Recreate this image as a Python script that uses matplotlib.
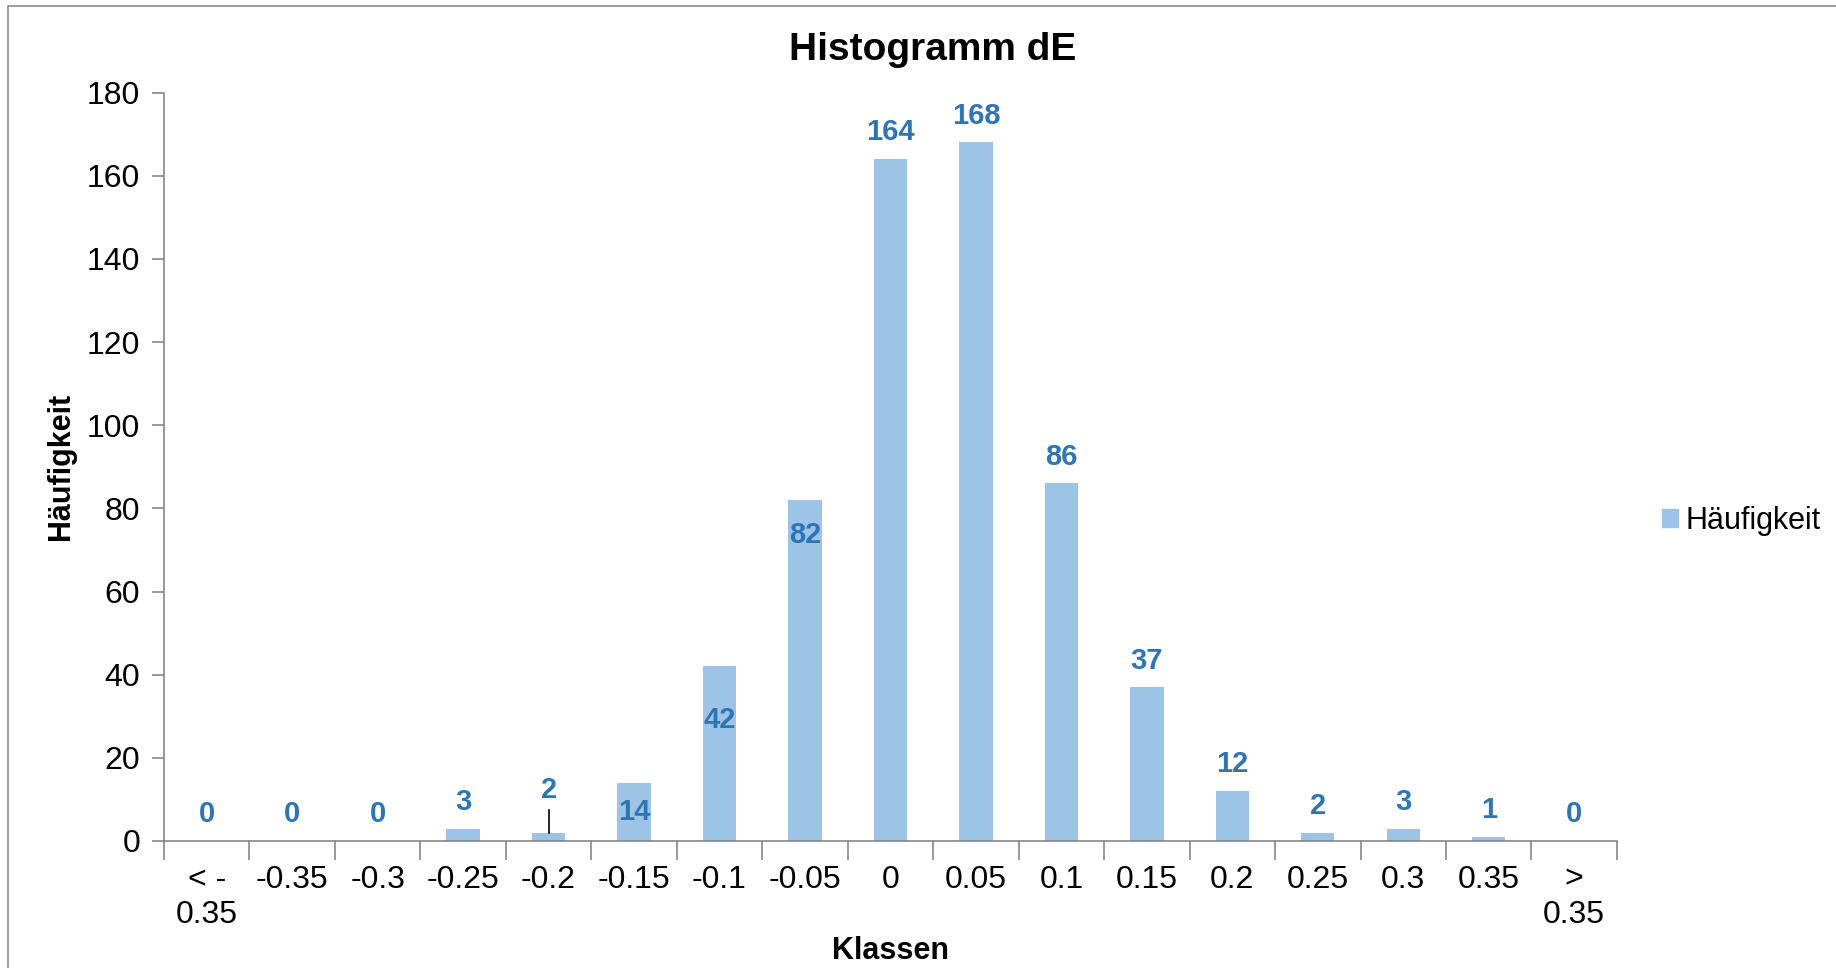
import matplotlib
matplotlib.use('Agg')
import matplotlib.pyplot as plt
from matplotlib.patches import Rectangle, Patch

plt.rcParams['font.family'] = ['Liberation Sans', 'DejaVu Sans']

# data
klassen = ['< -\n0.35', '-0.35', '-0.3', '-0.25', '-0.2', '-0.15', '-0.1', '-0.05', '0',
           '0.05', '0.1', '0.15', '0.2', '0.25', '0.3', '0.35', '>\n0.35']
haeufigkeit = [0, 0, 0, 3, 2, 14, 42, 82, 164, 168, 86, 37, 12, 2, 3, 1, 0]

bar_color = '#9DC3E6'
label_color = '#2E75B6'
axis_color = '#868686'

fig = plt.figure(figsize=(18.36, 9.68), dpi=100)
fig.patches.append(Rectangle((0.0045, -0.01), 1.2, 1.004, transform=fig.transFigure,
                             fill=False, edgecolor='#8c8c8c', linewidth=1.2))
ax = fig.add_axes([0.0893, 0.1312, 0.7914, 0.7732])

x = range(len(klassen))
ax.bar(x, haeufigkeit, width=0.39, color=bar_color)

# data labels: most sit above the bar, a few were placed inside
inside = {5: -7.0, 6: -13.0, 7: -8.5}
for i, v in enumerate(haeufigkeit):
    if i in inside:
        y = v + inside[i]
    elif i == 4:
        y = v + 10.2
    else:
        y = v + 6.4
    ax.text(i, y, str(v), ha='center', va='center', color=label_color,
            fontsize=21, fontweight='bold')

# leader line for the small "2" label
ax.plot([4, 4], [haeufigkeit[4], haeufigkeit[4] + 5.4], color='black', linewidth=1.2)

ax.set_xlim(-0.5, len(klassen) - 0.5)
ax.set_ylim(0, 180)
ax.set_yticks(range(0, 181, 20))
ax.set_xticks(x)
ax.set_xticklabels(klassen, fontsize=23, linespacing=1.25)
ax.tick_params(axis='x', length=0, pad=17)
ax.set_xticks([i - 0.5 for i in range(len(klassen) + 1)], minor=True)
ax.tick_params(axis='x', which='minor', length=14, width=1.2, color=axis_color, direction='out')
ax.tick_params(axis='y', labelsize=23, length=9, width=1.2, color=axis_color, pad=8)

for s in ['top', 'right']:
    ax.spines[s].set_visible(False)
for s in ['left', 'bottom']:
    ax.spines[s].set_color(axis_color)
    ax.spines[s].set_linewidth(1.2)

ax.set_xlabel('Klassen', fontsize=22, fontweight='bold', labelpad=4)
ax.set_ylabel('Häufigkeit', fontsize=22, fontweight='bold', labelpad=8)

fig.text(0.508, 0.948, 'Histogramm dE', ha='center', va='center',
         fontsize=28, fontweight='bold')

fig.legend(handles=[Patch(color=bar_color, label='Häufigkeit')], loc='center left',
           bbox_to_anchor=(0.89, 0.462), frameon=False, fontsize=22,
           handlelength=0.55, handleheight=0.55, handletextpad=0.25)

fig.savefig('out.png', dpi=100)
